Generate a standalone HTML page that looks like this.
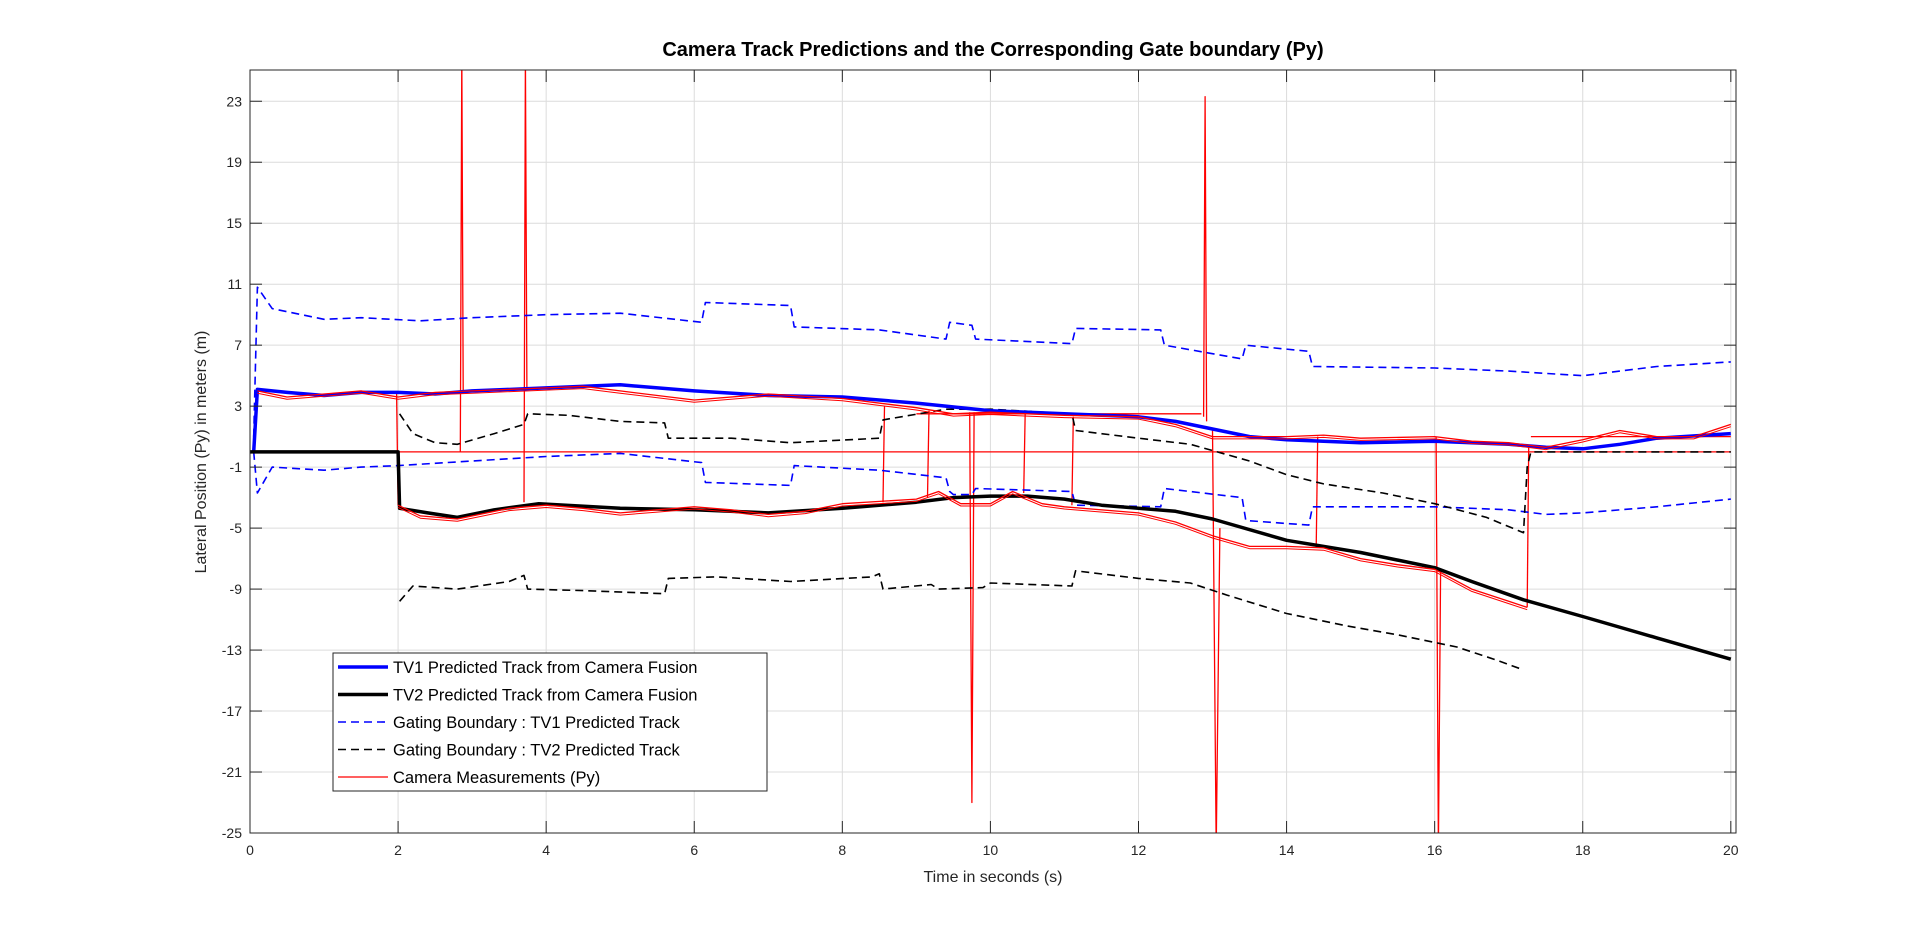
<!DOCTYPE html>
<html><head><meta charset="utf-8">
<style>
html,body{margin:0;padding:0;background:#fff;}
svg{display:block;font-family:"Liberation Sans",Arial,sans-serif;}
</style></head>
<body>
<svg id="chart" width="1920" height="936" viewBox="0 0 1920 936" xmlns="http://www.w3.org/2000/svg">
<rect x="0" y="0" width="1920" height="936" fill="#fff"/>
<rect x="250" y="70" width="1486" height="763" fill="#fff"/>
<g id="grid"></g>
<g id="series"></g>
<rect x="250" y="70" width="1486" height="763" fill="none" stroke="#262626" stroke-width="1"/>
<g id="ticks"></g>
<text x="993" y="56" text-anchor="middle" font-size="20" font-weight="bold" fill="#000">Camera Track Predictions and the Corresponding Gate boundary (Py)</text>
<text x="993" y="882" text-anchor="middle" font-size="16" fill="#262626">Time in seconds (s)</text>
<text transform="translate(206,452) rotate(-90)" text-anchor="middle" font-size="16" fill="#262626">Lateral Position (Py) in meters (m)</text>
<g id="legend"></g>
</svg>
<script>
const xTicks=[0,2,4,6,8,10,12,14,16,18,20];
const yTicks=[23,19,15,11,7,3,-1,-5,-9,-13,-17,-21,-25];
const tv1T=[0.05,0.1,0.5,1,1.5,2,2.5,3,4,5,6,7,8,9,10,11,12,12.5,13,13.5,14,15,16,17,17.5,18,18.5,19,20];
const tv1Y=[0,4.1,3.9,3.7,3.9,3.9,3.8,4.0,4.2,4.4,4.0,3.7,3.6,3.2,2.7,2.5,2.3,2.0,1.5,1.0,0.8,0.6,0.7,0.5,0.3,0.2,0.5,0.9,1.2];
const tv2T=[0,2,2.02,2.4,2.8,3.3,3.9,5,6,7,8,9,9.5,10,10.5,11,11.5,12,12.5,13,14,15,16,16.5,17.2,18,19,20];
const tv2Y=[0,0,-3.7,-4.0,-4.3,-3.8,-3.4,-3.7,-3.8,-4.0,-3.7,-3.3,-3.0,-2.9,-2.9,-3.1,-3.5,-3.7,-3.9,-4.4,-5.8,-6.6,-7.6,-8.5,-9.7,-10.8,-12.2,-13.6];
const gb1uT=[0.05,0.1,0.3,1,1.5,2.3,3,4,5,6.1,6.15,7.3,7.35,8.5,9.4,9.45,9.75,9.8,11.1,11.15,12.3,12.35,13.4,13.45,14.3,14.35,16,17,18,19,20];
const gb1uY=[1,10.8,9.4,8.7,8.8,8.6,8.8,9.0,9.1,8.5,9.8,9.6,8.2,8.0,7.4,8.5,8.3,7.4,7.1,8.1,8.0,7.0,6.1,7.0,6.6,5.6,5.5,5.3,5.0,5.6,5.9];
const gb1lT=[0.05,0.1,0.3,1,1.5,2,3,4,5,6.1,6.15,7.3,7.35,8.5,9.4,9.45,9.5,9.75,9.8,11.1,11.15,12.3,12.35,13.4,13.45,14.3,14.35,16,17,17.5,18,19,20];
const gb1lY=[0,-2.7,-1.0,-1.2,-1.0,-0.9,-0.6,-0.3,-0.1,-0.7,-2.0,-2.2,-0.9,-1.2,-1.7,-2.6,-2.8,-2.8,-2.4,-2.6,-3.5,-3.6,-2.4,-3.0,-4.5,-4.8,-3.6,-3.6,-3.8,-4.1,-4.0,-3.6,-3.1];
const gb2uT=[2.02,2.2,2.5,2.8,3.3,3.7,3.75,4.3,5,5.6,5.65,6.5,7.3,8.5,8.55,9.4,10,11.1,11.15,12,12.7,13.5,14,14.5,15.3,16,16.7,17.2,17.25,17.3,20];
const gb2uY=[2.5,1.2,0.6,0.5,1.2,1.8,2.5,2.4,2.0,1.9,0.9,0.9,0.6,0.9,2.1,2.8,2.8,2.5,1.4,0.9,0.5,-0.6,-1.5,-2.1,-2.7,-3.4,-4.3,-5.3,-1,0,0];
const gb2lT=[2.02,2.2,2.8,3.5,3.7,3.75,4.5,5.6,5.65,6.3,7.3,8.4,8.5,8.55,9.2,9.3,9.9,10,11.1,11.15,12,12.7,13.2,14,14.8,15.5,16.3,16.8,17.2];
const gb2lY=[-9.8,-8.8,-9.0,-8.5,-8.1,-9.0,-9.1,-9.3,-8.3,-8.2,-8.5,-8.2,-8.0,-9.0,-8.7,-9.0,-8.9,-8.6,-8.8,-7.8,-8.3,-8.6,-9.4,-10.6,-11.4,-12.0,-12.8,-13.6,-14.3];
const cam1T=[0.1,0.5,1,1.5,2,2.5,3,4,4.5,5,6,7,8,9,9.5,10,10.5,11,12,12.5,13,14,14.5,15,16,16.5,17,17.5,18,18.5,19,19.5,20];
const cam1Y=[4.0,3.6,3.8,4.0,3.6,3.9,4.0,4.2,4.3,4.0,3.4,3.8,3.5,2.9,2.5,2.6,2.5,2.4,2.3,1.8,1.0,1.0,1.1,0.9,1.0,0.7,0.6,0.3,0.8,1.4,1.0,1.0,1.8];
const cam2T=[2.0,2.3,2.8,3.5,4,4.5,5,5.5,6,6.5,7,7.5,8,9,9.3,9.6,10,10.3,10.7,11,12,12.5,13,13.5,14,14.5,15,15.5,16,16.5,17,17.25];
const cam2Y=[-3.5,-4.2,-4.4,-3.7,-3.5,-3.7,-4.0,-3.8,-3.6,-3.8,-4.1,-3.9,-3.4,-3.1,-2.6,-3.4,-3.4,-2.6,-3.4,-3.6,-4.0,-4.6,-5.5,-6.2,-6.2,-6.3,-7.0,-7.4,-7.7,-9.0,-9.8,-10.2];
const camBaseT=[0,20];
const camBaseY=[0,0];
const camHoldT=[9.0,12.85,12.85,17.3,20];
const camHoldY=[2.5,2.5,NaN,1.0,1.0];
const spikeT=[[1.98,2.0],[2.84,2.86,2.88],[3.7,3.72,3.74],[8.55,8.57],[9.15,9.17],[9.72,9.75,9.78],[10.45,10.47],[11.1,11.12],[12.88,12.9,12.92],[13.0,13.05,13.1],[14.4,14.42],[16.02,16.05,16.08],[17.25,17.27]];
const spikeY=[[3.8,-3.5],[0,26,4.0],[-3.3,26,4.1],[-3.3,3.0],[-3.0,2.7],[2.6,-23,2.6],[-2.7,2.6],[-3.5,2.3],[2.3,23.3,2.0],[1.5,-26,-5.0],[-6.3,1.0],[1.0,-26,-7.8],[-10.2,0.3]];

const X0=250,X1=1736,Y0=70,Y1=833,XMIN=0,XMAX=20.07,YMIN=-25,YMAX=25.05;
const sx=t=>X0+(t-XMIN)/(XMAX-XMIN)*(X1-X0);
const sy=v=>Y1-(v-YMIN)/(YMAX-YMIN)*(Y1-Y0);
const NS='http://www.w3.org/2000/svg';
function mk(tag,parent){const e=document.createElementNS(NS,tag);parent.appendChild(e);return e;}
function pathD(T,Y){let d='',pen=false;for(let i=0;i<T.length;i++){if(isNaN(Y[i])){pen=false;continue;}d+=(pen?'L':'M')+sx(T[i]).toFixed(1)+','+sy(Y[i]).toFixed(1);pen=true;}return d;}
const grid=document.getElementById('grid'),ticks=document.getElementById('ticks'),series=document.getElementById('series');
xTicks.forEach(t=>{
 const g=mk('line',grid);
 
 
 g.setAttribute('x1',sx(t));g.setAttribute('x2',sx(t));g.setAttribute('y1',Y0);g.setAttribute('y2',Y1);g.setAttribute('stroke','#dcdcdc');
 const tk=mk('line',ticks);
 
 
 tk.setAttribute('x1',sx(t));tk.setAttribute('x2',sx(t));tk.setAttribute('y1',Y1);tk.setAttribute('y2',Y1-12);tk.setAttribute('stroke','#262626');
 const tk2=mk('line',ticks);
 
 
 tk2.setAttribute('x1',sx(t));tk2.setAttribute('x2',sx(t));tk2.setAttribute('y1',Y0);tk2.setAttribute('y2',Y0+12);tk2.setAttribute('stroke','#262626');
 const l=mk('text',ticks);
 
 
 l.setAttribute('x',sx(t));l.setAttribute('y',Y1+22);l.setAttribute('text-anchor','middle');l.setAttribute('font-size','14');l.setAttribute('fill','#262626');l.textContent=t;
});
yTicks.forEach(v=>{
 const g=mk('line',grid);
 
 
 g.setAttribute('x1',X0);g.setAttribute('x2',X1);g.setAttribute('y1',sy(v));g.setAttribute('y2',sy(v));g.setAttribute('stroke','#dcdcdc');
 const tk=mk('line',ticks);
 
 
 tk.setAttribute('x1',X0);tk.setAttribute('x2',X0+12);tk.setAttribute('y1',sy(v));tk.setAttribute('y2',sy(v));tk.setAttribute('stroke','#262626');
 const tk2=mk('line',ticks);
 
 
 tk2.setAttribute('x1',X1);tk2.setAttribute('x2',X1-12);tk2.setAttribute('y1',sy(v));tk2.setAttribute('y2',sy(v));tk2.setAttribute('stroke','#262626');
 const l=mk('text',ticks);
 
 
 l.setAttribute('x',X0-8);l.setAttribute('y',sy(v)+5);l.setAttribute('text-anchor','end');l.setAttribute('font-size','14');l.setAttribute('fill','#262626');l.textContent=v;
});
const clip=mk('clipPath',series);clip.setAttribute('id','pc');
const cr=mk('rect',clip);cr.setAttribute('x',X0);cr.setAttribute('y',Y0);cr.setAttribute('width',X1-X0);cr.setAttribute('height',Y1-Y0);
const sg=mk('g',series);sg.setAttribute('clip-path','url(#pc)');
function line(name,T,Y,color,w,dash){
 const p=mk('path',sg);
 
 
 p.setAttribute('d',pathD(T,Y));p.setAttribute('fill','none');p.setAttribute('stroke',color);p.setAttribute('stroke-width',w);
 p.setAttribute('stroke-linejoin','round');
 if(dash)p.setAttribute('stroke-dasharray',dash);
}
line('camera-baseline',camBaseT,camBaseY,'#ff0000',1.3);
line('camera-hold',camHoldT,camHoldY,'#ff0000',1.3);
spikeT.forEach((T,i)=>line('camera-spike',T,spikeY[i],'#ff0000',1.3));
line('gate-tv1-upper',gb1uT,gb1uY,'#0000ff',1.6,'8,5');
line('gate-tv1-lower',gb1lT,gb1lY,'#0000ff',1.6,'8,5');
line('gate-tv2-upper',gb2uT,gb2uY,'#000000',1.6,'8,5');
line('gate-tv2-lower',gb2lT,gb2lY,'#000000',1.6,'8,5');
line('tv1-track',tv1T,tv1Y,'#0000ff',3.5);
line('tv2-track',tv2T,tv2Y,'#000000',3.5);
line('camera-measurements-tv1',cam1T,cam1Y,'#ff0000',1.3);
line('camera-measurements-tv1-b',cam1T,cam1Y.map(v=>v-0.15),'#ff0000',1);
line('camera-measurements-tv2',cam2T,cam2Y,'#ff0000',1.3);
line('camera-measurements-tv2-b',cam2T,cam2Y.map(v=>v-0.15),'#ff0000',1);

const legendLabels=['TV1 Predicted Track from Camera Fusion','TV2 Predicted Track from Camera Fusion','Gating Boundary : TV1 Predicted Track','Gating Boundary : TV2 Predicted Track','Camera Measurements (Py)'];
const legendColors=['#0000ff','#000000','#0000ff','#000000','#ff0000'];
const legendWidths=[3.5,3.5,1.6,1.6,1.3];
const legendDash=['','','8,5','8,5',''];
const lg=document.getElementById('legend');
const lb=mk('rect',lg);


lb.setAttribute('x',333);lb.setAttribute('y',653);lb.setAttribute('width',434);lb.setAttribute('height',138);lb.setAttribute('fill','#fff');lb.setAttribute('stroke','#262626');
legendLabels.forEach((s,i)=>{
 const yy=667+i*27.5;
 const l=mk('line',lg);
 
 
 l.setAttribute('x1',338);l.setAttribute('x2',388);l.setAttribute('y1',yy);l.setAttribute('y2',yy);
 l.setAttribute('stroke',legendColors[i]);l.setAttribute('stroke-width',legendWidths[i]);
 if(legendDash[i])l.setAttribute('stroke-dasharray',legendDash[i]);
 const t=mk('text',lg);
 
 
 t.setAttribute('x',393);t.setAttribute('y',yy+6);t.setAttribute('font-size','16.5');t.setAttribute('fill','#000');t.textContent=s;
});
</script>
</body></html>
